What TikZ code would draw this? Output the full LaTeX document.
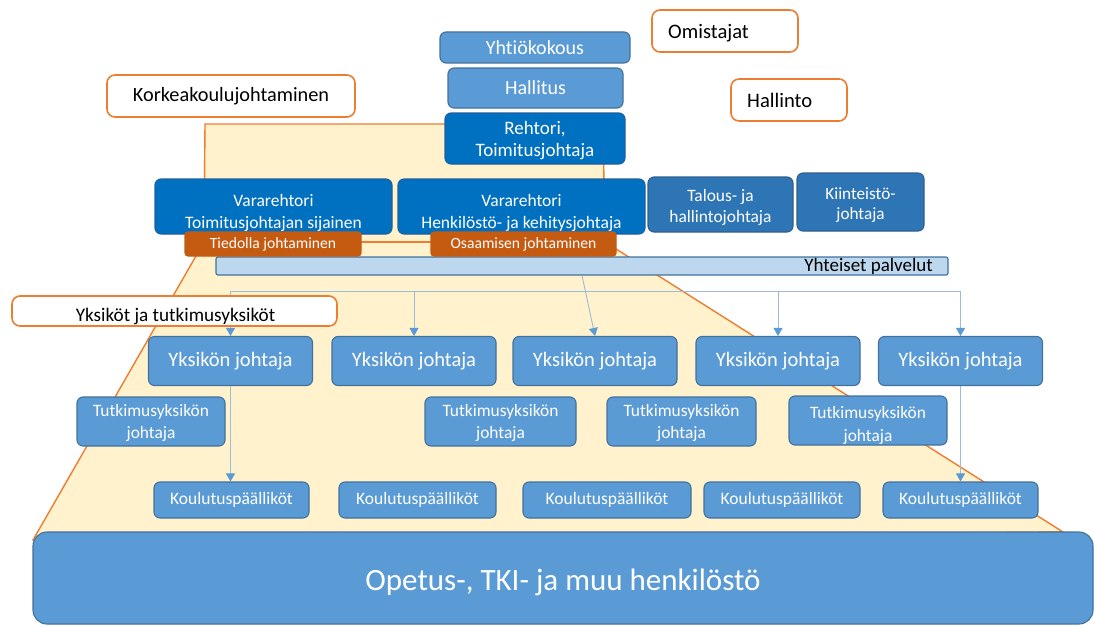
\documentclass[tikz,border=0pt]{standalone}
\usepackage{fontspec}
\setmainfont{Carlito}[Ligatures={NoCommon}]
\usetikzlibrary{arrows.meta}
\definecolor{beige}{HTML}{FFF2CC}
\definecolor{orline}{HTML}{ED7D31}
\definecolor{lbfill}{HTML}{5B9BD5}
\definecolor{lbdraw}{HTML}{41719C}
\definecolor{dbfill}{HTML}{0070C0}
\definecolor{dbdraw}{HTML}{1F5F9F}
\definecolor{mbfill}{HTML}{2E75B6}
\definecolor{mbdraw}{HTML}{2F5F8F}
\definecolor{orfill}{HTML}{C55A11}
\definecolor{barfill}{HTML}{BDD7EE}
\definecolor{conn}{HTML}{9BBBD9}
\newcommand\myfs[1]{\fontsize{#1}{22}\selectfont}
\newcommand\myfsl[2]{\fontsize{#1}{#2}\selectfont}
\begin{document}
\begin{tikzpicture}[x=1pt,y=-1pt,
  box/.style={rounded corners=6pt, align=center, inner sep=0pt, text=white, line width=1.1pt},
  lb/.style={box, fill=lbfill, draw=lbdraw},
  db/.style={box, fill=dbfill, draw=dbdraw},
  mb/.style={box, fill=mbfill, draw=mbdraw},
  ob/.style={box, rounded corners=3pt, fill=orfill, draw=orfill},
  ow/.style={rounded corners=8pt, fill=white, draw=orline, line width=1.6pt, inner sep=0pt, text=black},
  wtext/.style={align=center, inner sep=0pt, text=white},
  connline/.style={draw=conn, line width=0.9pt},
  arr/.style={connline, -{Triangle[width=9pt,length=8pt,fill=lbfill,color=lbfill]}},
  yj/.style={lb, minimum width=164pt, minimum height=49pt, font=\myfs{20.5}},
  tj/.style={lb, minimum height=49pt},
  kp/.style={lb, minimum height=36pt, font=\myfs{17.5}}
]
\useasboundingbox (0,0) rectangle (1094,626);
% background pyramid
\path[fill=beige, draw=orline, line width=1.4pt]
  (205,124) -- (603,124) -- (605,242) -- (1063,532) -- (33,540) -- (204,242) -- cycle;
\coordinate (ml) at (204,242);
\coordinate (mr) at (605,242);
\draw[orline, line width=1.4pt] (ml) -- (mr);

% shared services bar
\node[fill=barfill, draw=lbdraw, line width=1.1pt, rounded corners=2pt, minimum width=732pt, minimum height=18pt, inner sep=0pt] (yp) at (582,266) {};
\node[anchor=base east, font=\myfs{19}, inner sep=0pt] (ypt) at (933,271) {Yhteiset palvelut};

% unit heads row
\node[yj] (y1) at (230.5,361) {Yksikön johtaja};
\node[yj] (y2) at (414,361) {Yksikön johtaja};
\node[yj] (y3) at (595,361) {Yksikön johtaja};
\node[yj] (y4) at (778,361) {Yksikön johtaja};
\node[yj] (y5) at (960.5,361) {Yksikön johtaja};

% connectors
\coordinate (hl) at (230.5,291);
\coordinate (hr) at (960.5,291);
\draw[connline] (hl) -- (hr);
\draw[arr] (hl) -- (y1.north);
\draw[arr] (y2.north |- hl) -- (y2.north);
\draw[arr] (y4.north |- hl) -- (y4.north);
\draw[arr] (hr) -- (y5.north);
\draw[arr] (yp.south) -- (y3.north);

% research unit heads
\node[tj, minimum width=148pt] (t1) at (151,421.5) {};
\node[tj, minimum width=151pt] (t2) at (500.5,421.5) {};
\node[tj, minimum width=149pt] (t3) at (681.5,421.5) {};
\node[tj, minimum width=158pt] (t4) at (868,420.5) {};
\node[wtext, font=\myfs{17.4}] (t1t) at (151,423) {Tutkimusyksikön\\johtaja};
\node[wtext, font=\myfs{17.4}] (t2t) at (500.5,423) {Tutkimusyksikön\\johtaja};
\node[wtext, font=\myfs{17.4}] (t3t) at (681.5,423) {Tutkimusyksikön\\johtaja};
\node[wtext, font={\myfsl{17.4}{23}}] (t4t) at (868,425) {Tutkimusyksikön\\johtaja};

% training managers
\node[kp, minimum width=155pt] (k1) at (231.5,500) {Koulutuspäälliköt};
\node[kp, minimum width=157pt] (k2) at (417.5,500) {Koulutuspäälliköt};
\node[kp, minimum width=168pt] (k3) at (607,500) {Koulutuspäälliköt};
\node[kp, minimum width=156pt] (k4) at (782,500) {Koulutuspäälliköt};
\node[kp, minimum width=155pt] (k5) at (960.5,500) {Koulutuspäälliköt};
\draw[arr] (y1.south) -- (k1.north -| y1.south);
\draw[arr] (y5.south) -- (k5.north -| y5.south);

% label boxes (orange outline)
\node[ow, minimum width=248pt, minimum height=42pt, font=\myfs{20.3}] (kk) at (231,96) {Korkeakoulujohtaminen};
\node[ow, minimum width=146pt, minimum height=42pt] (om) at (725,31) {};
\node[anchor=base west, font=\myfs{20.6}, inner sep=0pt] (omt) at (668,39) {Omistajat};
\node[ow, minimum width=116pt, minimum height=42pt] (ha) at (789,100) {};
\node[anchor=base west, font=\myfs{20.6}, inner sep=0pt] (hat) at (747,107) {Hallinto};
\node[ow, minimum width=325pt, minimum height=30pt] (yt) at (174.5,311) {};
\node[anchor=base, font=\myfs{19.2}, inner sep=0pt] (ytt) at (175.5,321.5) {Yksiköt ja tutkimusyksiköt};

% top governance
\node[lb, minimum width=190pt, minimum height=31pt, font=\myfs{20}] (yk) at (535,47.5) {Yhtiökokous};
\node[lb, minimum width=175pt, minimum height=40pt, font=\myfs{20}] (hal) at (535.5,88) {Hallitus};
\node[db, minimum width=180pt, minimum height=51pt] (reh) at (535,138.5) {};
\node[wtext, font=\myfs{19}] (reht) at (535,140.5) {Rehtori,\\Toimitusjohtaja};

% vice rectors etc.
\node[db, minimum width=237pt, minimum height=55pt] (vr1) at (273.5,206.5) {};
\node[db, minimum width=247pt, minimum height=55pt] (vr2) at (521.5,206.5) {};
\node[mb, minimum width=145pt, minimum height=55pt] (tal) at (720.5,204.5) {};
\node[mb, minimum width=127pt, minimum height=58pt] (kii) at (860.5,202) {};
\node[wtext, font=\myfs{17.5}] (vr1t) at (273.5,212.5) {Vararehtori\\Toimitusjohtajan sijainen};
\node[wtext, font=\myfs{17.5}] (vr2t) at (521.5,212.5) {Vararehtori\\Henkilöstö- ja kehitysjohtaja};
\node[wtext, font={\myfsl{17.4}{21}}] (talt) at (720.5,207) {Talous- ja\\hallintojohtaja};
\node[wtext, font={\myfsl{17.2}{20.5}}] (kiit) at (860.5,205) {Kiinteistö-\\johtaja};

% orange labels
\node[ob, minimum width=176pt, minimum height=24pt, font=\myfs{15.6}] (tie) at (273,244) {Tiedolla johtaminen};
\node[ob, minimum width=185pt, minimum height=24pt, font=\myfs{15.6}] (osa) at (523.5,244) {Osaamisen johtaminen};

% staff base
\node[lb, rounded corners=14pt, minimum width=1060pt, minimum height=92pt] (op) at (563,578) {};
\node[wtext, font=\myfs{31}] (opt) at (563,582) {Opetus-, TKI- ja muu henkilöstö};
\end{tikzpicture}
\end{document}
